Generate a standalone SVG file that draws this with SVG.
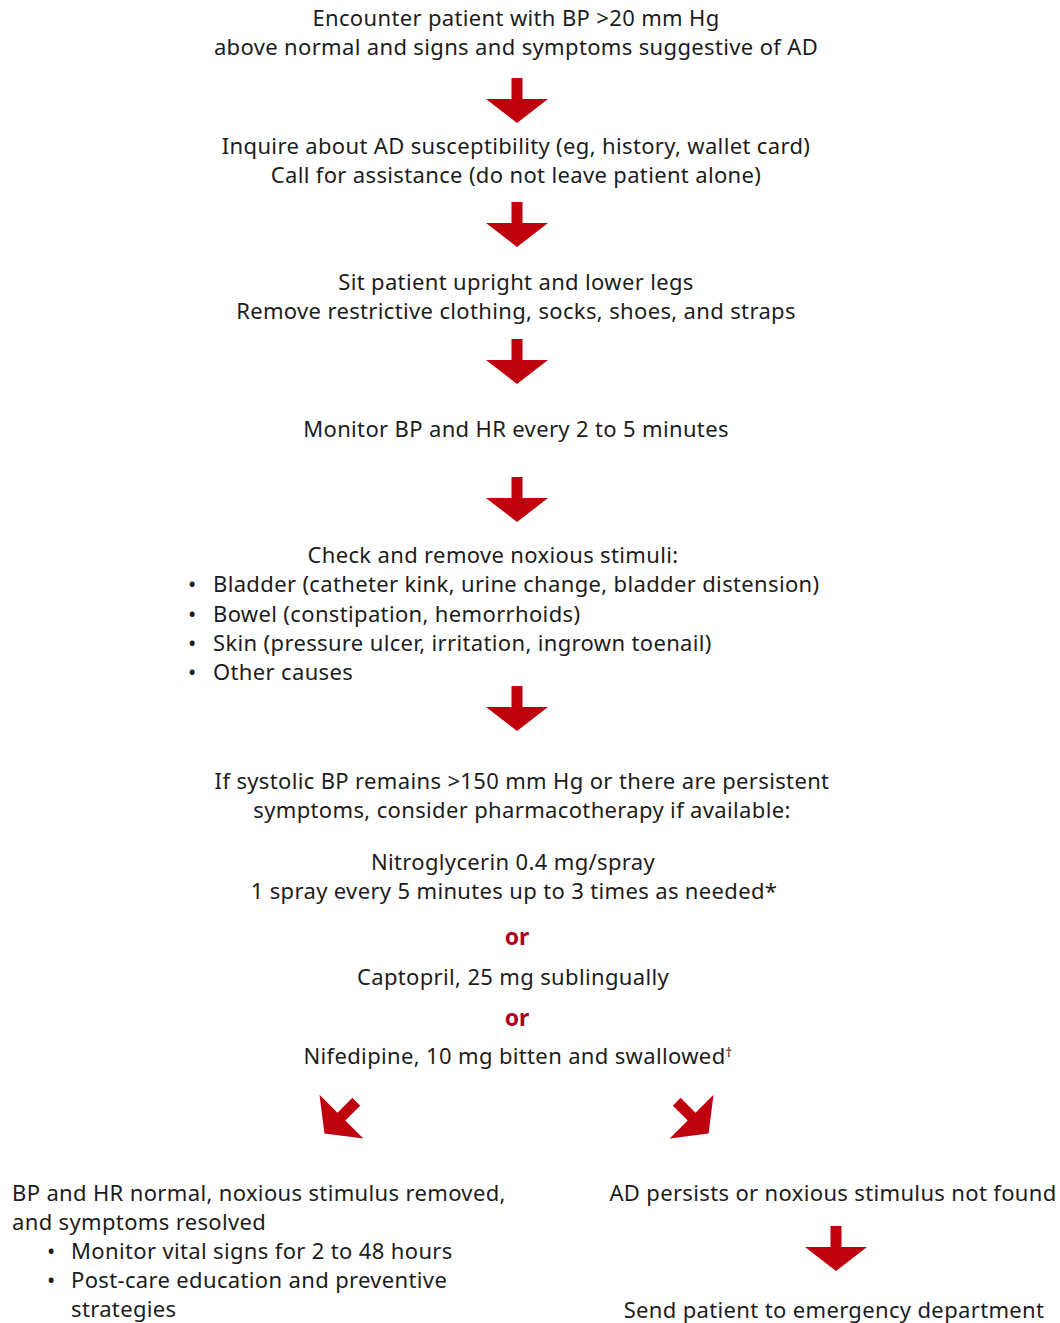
<svg xmlns="http://www.w3.org/2000/svg" width="1060" height="1323" viewBox="0 0 1060 1323">
<defs>
<style>
text{font-family:"Noto Sans","Liberation Sans",sans-serif;font-size:22px;letter-spacing:0.35px;fill:#1c1c1c}
.c{text-anchor:middle}
.or{font-weight:bold;fill:#b0001e;font-size:23px;letter-spacing:0}
.sup{font-size:13px}
.arr{fill:#bf000d}
</style>
<path id="ar" d="M-5.5,0 H5.5 V21 H31 L0,45 L-31,21 H-5.5 Z"/>
</defs>
<rect width="1060" height="1323" fill="#fff"/>
<g id="n1"><text class="c" x="516" y="26">Encounter patient with BP &gt;20 mm Hg</text><text class="c" x="516" y="55">above normal and signs and symptoms suggestive of AD</text></g>
<g id="n2"><text class="c" x="516" y="154">Inquire about AD susceptibility (eg, history, wallet card)</text><text class="c" x="516" y="183">Call for assistance (do not leave patient alone)</text></g>
<g id="n3"><text class="c" x="516" y="290">Sit patient upright and lower legs</text><text class="c" x="516" y="319">Remove restrictive clothing, socks, shoes, and straps</text></g>
<g id="n4"><text class="c" x="516" y="437">Monitor BP and HR every 2 to 5 minutes</text></g>
<g id="n5"><text class="c" x="493" y="563">Check and remove noxious stimuli:</text>
<text x="188" y="592">•</text><text x="213" y="592">Bladder (catheter kink, urine change, bladder distension)</text>
<text x="188" y="622">•</text><text x="213" y="622">Bowel (constipation, hemorrhoids)</text>
<text x="188" y="651">•</text><text x="213" y="651">Skin (pressure ulcer, irritation, ingrown toenail)</text>
<text x="188" y="680">•</text><text x="213" y="680">Other causes</text></g>
<g id="n6"><text class="c" x="522" y="789">If systolic BP remains &gt;150 mm Hg or there are persistent</text><text class="c" x="522" y="818">symptoms, consider pharmacotherapy if available:</text>
<text class="c" x="513" y="870">Nitroglycerin 0.4 mg/spray</text><text class="c" x="514" y="899">1 spray every 5 minutes up to 3 times as needed*</text>
<text class="c or" x="517" y="945">or</text>
<text class="c" x="513" y="985">Captopril, 25 mg sublingually</text>
<text class="c or" x="517" y="1026">or</text>
<text class="c" x="518" y="1064">Nifedipine, 10 mg bitten and swallowed<tspan class="sup" dy="-7">†</tspan></text></g>
<g id="n7"><text x="12" y="1201">BP and HR normal, noxious stimulus removed,</text><text x="12" y="1230">and symptoms resolved</text>
<text x="47" y="1259">•</text><text x="71" y="1259">Monitor vital signs for 2 to 48 hours</text>
<text x="47" y="1288">•</text><text x="71" y="1288">Post-care education and preventive</text>
<text x="71" y="1317">strategies</text></g>
<g id="n8"><text class="c" x="833" y="1201">AD persists or noxious stimulus not found</text></g>
<g id="n9"><text class="c" x="834" y="1318">Send patient to emergency department</text></g>
<g id="connectors" class="arr">
<use href="#ar" x="517" y="78"/>
<use href="#ar" x="517" y="202"/>
<use href="#ar" x="517" y="339"/>
<use href="#ar" x="517" y="477"/>
<use href="#ar" x="517" y="686"/>
<use href="#ar" transform="translate(340,1118) rotate(45) translate(0,-23)"/>
<use href="#ar" transform="translate(693,1118) rotate(-45) translate(0,-23)"/>
<use href="#ar" x="836" y="1226"/>
</g>
</svg>
